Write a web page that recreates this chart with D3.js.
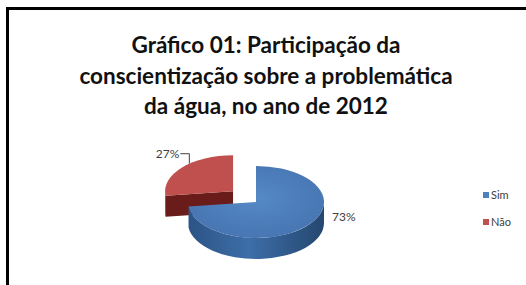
<!DOCTYPE html>
<html>
<head>
<meta charset="utf-8">
<script src="https://cdn.jsdelivr.net/npm/d3@7"></script>
<style>
  body { margin: 0; background: #fff; }
  svg { display: block; }
</style>
</head>
<body>
<svg width="526" height="285"></svg>
<script>
var categories = ["Sim", "Não"];
var values = [73, 27];
var labels = ["73%", "27%"];
var titleLines = ["Gráfico 01: Participação da",
                  "conscientização sobre a problemática",
                  "da água, no ano de 2012"];

var w = 526, h = 285;
var cx = 256, cy = 202, rx = 68, ry = 36, depth = 21;
var explode = [0, 0.45];
var topCol = ["#4f81bd", "#c0504d"];
var sideCol = ["#2f5b8e", "#6a1c1b"];

var svg = d3.select("svg");

// frame
svg.append("path")
  .attr("d", "M7.5," + h + "V8.5H" + w)
  .attr("fill", "none").attr("stroke", "#000").attr("stroke-width", 3);

// title
svg.append("g").selectAll("text")
  .data(titleLines)
  .enter().append("text")
  .attr("x", 266)
  .attr("y", function(d, i){ return 53 + i * 30.5; })
  .attr("text-anchor", "middle")
  .attr("font-family", "Lato, sans-serif")
  .attr("font-weight", "bold")
  .attr("font-size", "22.5px")
  .attr("fill", "#111")
  .text(function(d){ return d; });

var defs = svg.append("defs");
var gs = defs.append("linearGradient").attr("id", "blueSide").attr("x1", 0).attr("x2", 1);
gs.append("stop").attr("offset", "0").attr("stop-color", "#2c5486");
gs.append("stop").attr("offset", "0.45").attr("stop-color", "#3d6ea8");
gs.append("stop").attr("offset", "1").attr("stop-color", "#25476f");
var gt = defs.append("radialGradient").attr("id", "blueTop").attr("cx", "0.5").attr("cy", "0.45").attr("r", "0.6");
gt.append("stop").attr("offset", "0").attr("stop-color", "#5589c6");
gt.append("stop").attr("offset", "1").attr("stop-color", "#4674b0");

var pie = d3.pie().sort(null).value(function(d){ return d; });
var arcs = pie(values);

function pt(c, a, dy) {
  return [c[0] + rx * Math.sin(a), c[1] - ry * Math.cos(a) + (dy || 0)];
}

arcs.forEach(function(d, i){
  var mid = (d.startAngle + d.endAngle) / 2;
  d.center = [cx + explode[i] * rx * Math.sin(mid), cy - explode[i] * ry * Math.cos(mid)];
  d.mid = mid;
});

function topPath(d) {
  var p0 = pt(d.center, d.startAngle), p1 = pt(d.center, d.endAngle);
  var large = (d.endAngle - d.startAngle) > Math.PI ? 1 : 0;
  return "M" + d.center + "L" + p0 + "A" + rx + "," + ry + " 0 " + large + " 1 " + p1 + "Z";
}

function sidePath(d) {
  var s0 = Math.max(d.startAngle, Math.PI / 2), s1 = Math.min(d.endAngle, 3 * Math.PI / 2);
  if (s1 <= s0) return null;
  var a = pt(d.center, s0), b = pt(d.center, s1), bd = pt(d.center, s1, depth), ad = pt(d.center, s0, depth);
  return "M" + a + "A" + rx + "," + ry + " 0 0 1 " + b + "L" + bd +
    "A" + rx + "," + ry + " 0 0 0 " + ad + "Z";
}

function facePath(d, a) {
  var c = d.center, p = pt(c, a), pd = pt(c, a, depth);
  return "M" + c + "L" + p + "L" + pd + "L" + [c[0], c[1] + depth] + "Z";
}

// draw the exploded (back) slice first
var order = [1, 0];
var pieG = svg.append("g");
order.forEach(function(i){
  var d = arcs[i];
  if (Math.sin(d.startAngle) < 0)
    pieG.append("path").attr("d", facePath(d, d.startAngle)).attr("fill", sideCol[i]);
  if (Math.sin(d.endAngle) > 0)
    pieG.append("path").attr("d", facePath(d, d.endAngle)).attr("fill", sideCol[i]);
  var sp = sidePath(d);
  if (sp) pieG.append("path").attr("d", sp).attr("fill", i === 0 ? "url(#blueSide)" : sideCol[i]);
  pieG.append("path").attr("d", topPath(d)).attr("fill", i === 0 ? "url(#blueTop)" : topCol[i]);
});

// data labels
var lab = svg.append("g")
  .attr("font-family", "Lato, sans-serif")
  .attr("font-size", "12px")
  .attr("fill", "#404040");

var a0 = arcs[0];
lab.append("text")
  .attr("x", a0.center[0] + rx + 8)
  .attr("y", a0.center[1] + 19)
  .text(labels[0]);

var a1 = arcs[1];
var lp = pt(a1.center, a1.mid + 0.15);
var ly = lp[1] - 10;
lab.append("text")
  .attr("x", lp[0] - 10)
  .attr("y", ly + 4)
  .attr("text-anchor", "end")
  .text(labels[1]);
lab.append("path")
  .attr("d", "M" + (lp[0] - 9) + "," + ly + "H" + lp[0] + "V" + lp[1])
  .attr("fill", "none").attr("stroke", "#404040").attr("stroke-width", 1);

// legend
var leg = svg.append("g").attr("transform", "translate(483,193)");
var li = leg.selectAll("g").data(categories).enter().append("g")
  .attr("transform", function(d, i){ return "translate(0," + i * 27 + ")"; });
li.append("rect").attr("width", 6).attr("height", 6).attr("y", -1)
  .attr("fill", function(d, i){ return topCol[i]; });
li.append("text").attr("x", 8).attr("y", 6)
  .attr("font-family", "Lato, sans-serif").attr("font-size", "11px").attr("fill", "#404040")
  .text(function(d){ return d; });
</script>
</body>
</html>
